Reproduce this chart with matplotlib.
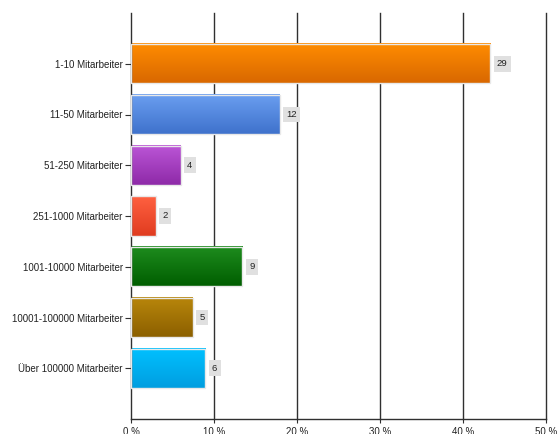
import numpy as np
import matplotlib
matplotlib.use("Agg")
import matplotlib.pyplot as plt
from matplotlib.colors import LinearSegmentedColormap
from matplotlib.ticker import FuncFormatter

categories = ["1-10 Mitarbeiter", "11-50 Mitarbeiter", "51-250 Mitarbeiter",
              "251-1000 Mitarbeiter", "1001-10000 Mitarbeiter",
              "10001-100000 Mitarbeiter", "Über 100000 Mitarbeiter"]
counts = [29, 12, 4, 2, 9, 5, 6]
top_colors = ["#ff8c00", "#6a9ef0", "#bb55d6", "#ff6040", "#1e8c1e", "#b8860b", "#00c0ff"]
bottom_colors = ["#d96800", "#3f72cc", "#8e2aa8", "#e03c20", "#005e00", "#8c6000", "#009ee0"]

total = sum(counts)
percents = [c / total * 100 for c in counts]

plt.rcParams['font.family'] = ['Liberation Sans', 'DejaVu Sans']
fig = plt.figure(figsize=(5.58, 4.34), dpi=100)
ax = fig.add_axes([131 / 558, 15 / 434, 415 / 558, 406 / 434])

ax.set_xlim(0, 50)
ax.set_ylim(len(categories) + 1, 0)
positions = np.arange(1, len(categories) + 1)
height = 0.77

for x in range(10, 51, 10):
    ax.axvline(x, color="#303030", lw=1, zorder=0, clip_on=False)

grad = np.linspace(0, 1, 64).reshape(-1, 1)
for pos, pct, cnt, ct, cb in zip(positions, percents, counts, top_colors, bottom_colors):
    cmap = LinearSegmentedColormap.from_list("g", [ct, cb])
    y0, y1 = pos - height / 2, pos + height / 2
    ax.imshow(grad, cmap=cmap, aspect="auto", extent=(0, pct, y1, y0),
              interpolation="bilinear", zorder=2)
    ax.add_patch(plt.Rectangle((0, y0), pct, height, fill=False,
                               edgecolor="#e8e8e8", lw=1, zorder=3))
    ax.text(pct + 0.8, pos, str(cnt), va="center", ha="left", fontsize=6.8,
            color="#222222", zorder=4,
            bbox=dict(boxstyle="square,pad=0.35", fc="#e0e0e0", ec="none"))

ax.set_yticks(positions)
ax.set_yticklabels(categories, fontsize=7, color="#222222")
ax.set_xticks(range(0, 51, 10))
ax.xaxis.set_major_formatter(FuncFormatter(lambda v, p: f"{int(v)} %"))
ax.tick_params(axis="x", labelsize=7, labelcolor="#222222", length=3, pad=3, color="#303030")
ax.tick_params(axis="y", length=4, pad=2, color="#303030")

for s in ["top", "right"]:
    ax.spines[s].set_visible(False)
for s in ["left", "bottom"]:
    ax.spines[s].set_color("#303030")
    ax.spines[s].set_linewidth(1)

fig.savefig("out.png", dpi=100)
